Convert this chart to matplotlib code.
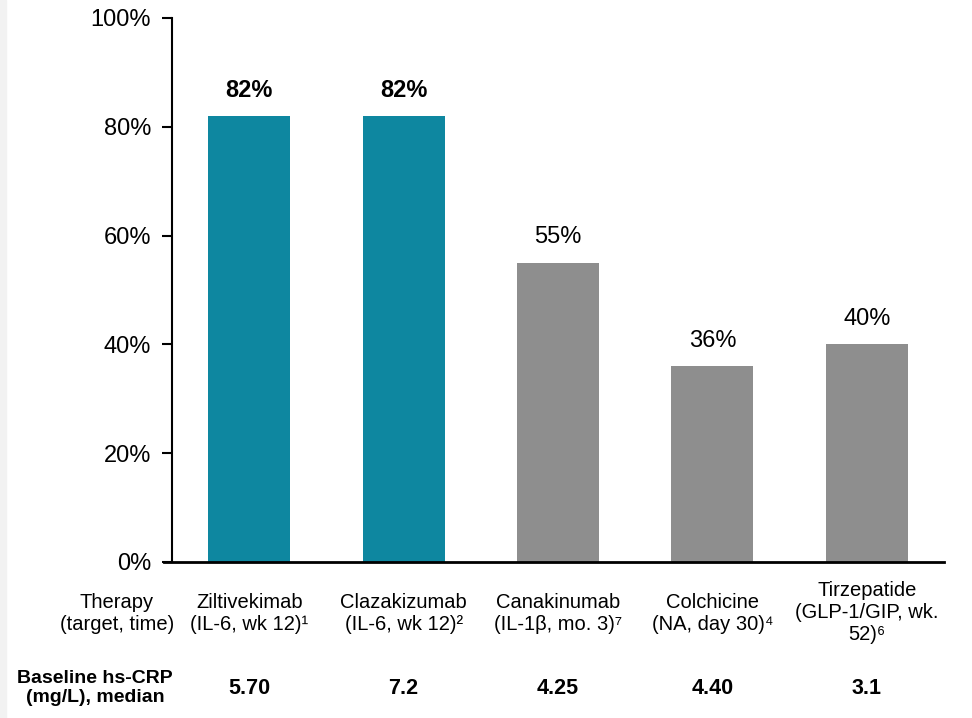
'''Bar chart of hs-CRP reduction by anti-inflammatory therapy.'''
import matplotlib.pyplot as plt
from matplotlib.patches import Rectangle

plt.rcParams['font.family'] = ['Liberation Sans', 'DejaVu Sans']

therapies = ['Ziltivekimab\n(IL-6, wk 12)¹', 'Clazakizumab\n(IL-6, wk 12)²',
             'Canakinumab\n(IL-1β, mo. 3)⁷', 'Colchicine\n(NA, day 30)⁴',
             'Tirzepatide\n(GLP-1/GIP, wk.\n52)⁶']
reduction = [82, 82, 55, 36, 40]
baseline_crp = ['5.70', '7.2', '4.25', '4.40', '3.1']
highlight = [True, True, False, False, False]
y_ticks = [0, 20, 40, 60, 80, 100]

TEAL = '#0E87A0'
GRAY = '#8E8E8E'

fig = plt.figure(figsize=(9.72, 7.18), dpi=100)
fig.patches.append(Rectangle((0, 0), 6 / 972, 1, transform=fig.transFigure,
                             color='#f2f2f2', zorder=0))
ax = fig.add_axes([172 / 972, 1 - 562 / 718, (944 - 172) / 972, (562 - 18) / 718])

x = list(range(len(therapies)))
colors = [TEAL if h else GRAY for h in highlight]
ax.bar(x, reduction, width=0.53, color=colors, zorder=2)

for xi, val, h in zip(x, reduction, highlight):
    ax.text(xi, val + 4.7, f'{val}%', ha='center', va='center', fontsize=17,
            fontweight='bold' if h else 'normal')

ax.set_xlim(-0.5, 4.5)
ax.set_ylim(0, 100)
ax.set_yticks(y_ticks)
ax.set_yticklabels([f'{t}%' for t in y_ticks], fontsize=17)
ax.set_xticks([])
ax.tick_params(axis='y', direction='out', length=7, width=1.5, pad=8)
for side in ['top', 'right']:
    ax.spines[side].set_visible(False)
ax.spines['left'].set_linewidth(1.5)
ax.spines['bottom'].set_linewidth(2)
ax.spines['bottom'].set_bounds(-0.5 - 8 / 154, 4.5)
ax.spines['bottom'].set_clip_on(False)

# table rows below the axis
trans = ax.get_xaxis_transform()
label_y = -(613 - 562) / 544
crp_y = -(688 - 562) / 544
for xi, name, crp in zip(x, therapies, baseline_crp):
    ax.text(xi, label_y, name, transform=trans, ha='center', va='center',
            fontsize=14.5, linespacing=1.2)
    ax.text(xi, crp_y, crp, transform=trans, ha='center', va='center',
            fontsize=15.5, fontweight='bold')

fig.text(117 / 972, 1 - 613 / 718, 'Therapy\n(target, time)', ha='center',
         va='center', fontsize=14.5, linespacing=1.2)
fig.text(95 / 972, 1 - 688 / 718, 'Baseline hs-CRP\n(mg/L), median', ha='center',
         va='center', fontsize=14, fontweight='bold', linespacing=1.2)

fig.savefig('out.png', dpi=100)
